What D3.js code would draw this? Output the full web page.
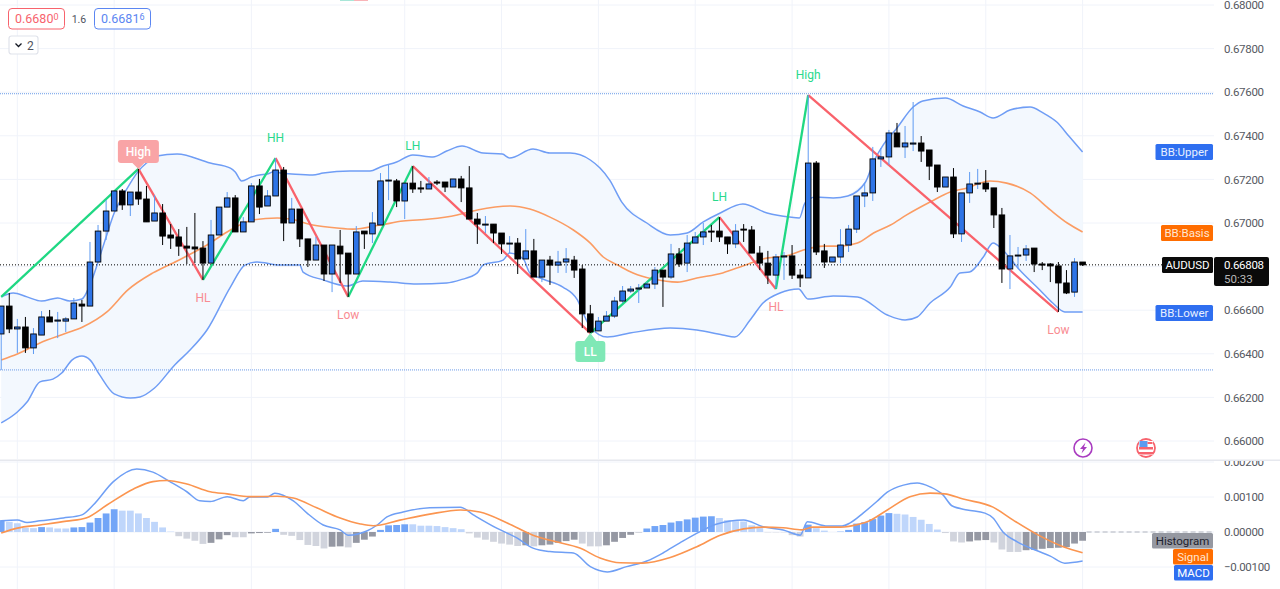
<!DOCTYPE html>
<html><head><meta charset="utf-8">
<script src="https://cdnjs.cloudflare.com/ajax/libs/d3/7.8.5/d3.min.js"></script>
<style>html,body{margin:0;padding:0;background:#fff;overflow:hidden}svg{display:block}text{font-family:Roboto,sans-serif}</style>
</head><body><svg id="c" width="1280" height="589"></svg>
<script>
const opens=[.66491,.66619,.66514,.66523,.66427,.66486,.66569,.66550,.66550,.66560,.66628,.66619,.66821,.66963,.67055,.67147,.67083,.67142,.67110,.67009,.67046,.66945,.66936,.66894,.66890,.66885,.66816,.66945,.67073,.67115,.66959,.67005,.67170,.67078,.67124,.67243,.67000,.67064,.66927,.66830,.66899,.66766,.66894,.66862,.66766,.66963,.66950,.66991,.67193,.67193,.67101,.67183,.67161,.67156,.67188,.67188,.67165,.67202,.67161,.67018,.66991,.66995,.66954,.66904,.66908,.66835,.66872,.66752,.66830,.66807,.66821,.66830,.66789,.66583,.66505,.66550,.66573,.66642,.66688,.66697,.66702,.66720,.66784,.66752,.66858,.66816,.66908,.66936,.66963,.66963,.66936,.66904,.66972,.66968,.66862,.66816,.66761,.66844,.66849,.66761,.66748,.67275,.66872,.66821,.66844,.66899,.66972,.67124,.67138,.67294,.67303,.67413,.67349,.67362,.67367,.67335,.67266,.67165,.67211,.66950,.67138,.67183,.67183,.67161,.67037,.66789,.66849,.66853,.66885,.66812,.66812,.66803,.66725,.66683,.66821];
const closes=[.66619,.66514,.66523,.66427,.66491,.66569,.66546,.66555,.66560,.66633,.66619,.66821,.66963,.67055,.67147,.67083,.67142,.67110,.67005,.67046,.66940,.66931,.66894,.66885,.66881,.66816,.66945,.67073,.67115,.66959,.67005,.67170,.67073,.67124,.67243,.67000,.67064,.66927,.66830,.66899,.66766,.66899,.66858,.66766,.66959,.66950,.67000,.67193,.67197,.67101,.67183,.67156,.67156,.67179,.67183,.67165,.67202,.67161,.67018,.66995,.66995,.66954,.66904,.66908,.66835,.66872,.66752,.66830,.66807,.66821,.66835,.66784,.66583,.66500,.66550,.66573,.66642,.66688,.66697,.66702,.66720,.66784,.66752,.66858,.66812,.66908,.66936,.66959,.66959,.66936,.66904,.66963,.66968,.66862,.66816,.66761,.66844,.66849,.66761,.66748,.67275,.66867,.66821,.66844,.66899,.66972,.67124,.67138,.67294,.67303,.67413,.67349,.67367,.67367,.67330,.67261,.67165,.67211,.66950,.67138,.67179,.67183,.67156,.67037,.66789,.66849,.66853,.66881,.66812,.66807,.66803,.66725,.66679,.66821,.66808];
const highs=[.66619,.66679,.66560,.66569,.66518,.66596,.66601,.66592,.66569,.66656,.66647,.66913,.66991,.67105,.67147,.67156,.67142,.67248,.67170,.67128,.67087,.66995,.66972,.66982,.67046,.66917,.67014,.67073,.67142,.67128,.67027,.67183,.67202,.67151,.67298,.67257,.67115,.67064,.66927,.66936,.66899,.66899,.66968,.66862,.66986,.66963,.67050,.67229,.67266,.67202,.67183,.67261,.67193,.67211,.67197,.67188,.67202,.67216,.67261,.67046,.67032,.66995,.66954,.66940,.66931,.66972,.66927,.66830,.66849,.66872,.66885,.66849,.66807,.66624,.66569,.66596,.66661,.66711,.66711,.66720,.66729,.66798,.66784,.66904,.66885,.66945,.66959,.67000,.66991,.67027,.66936,.66995,.66995,.66986,.66894,.66872,.66858,.66867,.66899,.66789,.67587,.67284,.66904,.66844,.66972,.66991,.67124,.67183,.67349,.67344,.67427,.67459,.67445,.67555,.67399,.67335,.67266,.67211,.67252,.67138,.67234,.67248,.67243,.67161,.67069,.66945,.66890,.66899,.66885,.66821,.66816,.66821,.66784,.66839,.66821];
const lows=[.66326,.66495,.66404,.66404,.66399,.66486,.66546,.66472,.66500,.66560,.66546,.66619,.66821,.66922,.67055,.67060,.67032,.67083,.67005,.67009,.66899,.66881,.66849,.66812,.66816,.66739,.66816,.66945,.67073,.66959,.66959,.67005,.67041,.67078,.67124,.66917,.67000,.66890,.66798,.66830,.66734,.66683,.66725,.66661,.66766,.66881,.66908,.66991,.67105,.67073,.67018,.67138,.67138,.67156,.67174,.67142,.67165,.67096,.67018,.66904,.66954,.66908,.66858,.66862,.66766,.66835,.66752,.66729,.66716,.66771,.66771,.66748,.66518,.66495,.66505,.66550,.66564,.66633,.66679,.66633,.66702,.66697,.66615,.66743,.66798,.66775,.66908,.66899,.66913,.66913,.66858,.66885,.66913,.66862,.66784,.66720,.66702,.66739,.66743,.66706,.66748,.66853,.66794,.66821,.66816,.66867,.66954,.67073,.67101,.67257,.67266,.67349,.67298,.67330,.67280,.67197,.67142,.67165,.66931,.66913,.67092,.67156,.67142,.66977,.66725,.66697,.66794,.66826,.66775,.66784,.66729,.66592,.66674,.66661,.66803];

const upperBars=[0,1.5,3.2,5,7,8.5,10,11,12,13,14,15,16,17,18,19.3,21.8,25.9,28.4,29,29.8,31,32,33,34,34.6,36,38.6,39.9,43.2,45.7,47,49,51,53.5,55.2,57.1,59.7,62.1,63,65.9,68,70.5,73,74.2,75.4,76.9,80,82.9,85,87,89.1,91.9,94.9,97.7,98.9,99.6,100.9,103.1,104.9,107.1,108.1,109.3,111,113,114.2,117,119.2,121.3,122.9,125,127.5,129.1,130.8,132.4,134];
const upperVals=[.66661,.66679,.66661,.66642,.66656,.66642,.66651,.66716,.66821,.66936,.67046,.67119,.67183,.67238,.67275,.67307,.67316,.67275,.67252,.67234,.67193,.67211,.67220,.67225,.67238,.67229,.67225,.67220,.67229,.67238,.67238,.67257,.67280,.67312,.67303,.67330,.67353,.67321,.67316,.67298,.67339,.67321,.67321,.67289,.67252,.67197,.67096,.67000,.66945,.66954,.67005,.67046,.67087,.67046,.67027,.67023,.67092,.67119,.67115,.67124,.67188,.67280,.67358,.67436,.67532,.67560,.67573,.67537,.67509,.67482,.67518,.67532,.67505,.67463,.67394,.67326];
const lowerBars=[0,2,3.2,4.8,6.4,7.5,8.8,10,11,12.2,14,16,17.2,19,21.5,23.4,25.5,28.4,30.2,31.7,34.5,37,37.4,39.9,42.9,44.8,48.2,51.5,55.2,56.9,59,59.7,62.2,63,64.7,65.5,67.1,69.6,71.4,72.1,73,75.1,77.9,82.9,86.2,89.4,90.9,92.8,94.4,96.5,98.8,100,103.1,106.1,109.8,112,113.5,115.1,117.6,118.8,120,121.7,122.9,124.1,126.2,128.7,130.3,131.8,134];
const lowerVals=[.66083,.66133,.66179,.66271,.66284,.66312,.66372,.66390,.66372,.66303,.66216,.66197,.66202,.66243,.66349,.66417,.66509,.66706,.66807,.66821,.66807,.66807,.66775,.66739,.66711,.66734,.66729,.66720,.66725,.66739,.66771,.66807,.66830,.66862,.66835,.66771,.66743,.66706,.66647,.66587,.66523,.66477,.66495,.66518,.66509,.66486,.66477,.66555,.66633,.66679,.66697,.66651,.66665,.66661,.66578,.66555,.66569,.66633,.66706,.66771,.66775,.66844,.66908,.66876,.66784,.66693,.66633,.66592,.66592];
const basisBars=[0,2,4.8,8.1,10.1,13.1,15.7,18.8,21.8,25.5,28.4,31.2,34.2,35.8,38.6,41.6,43.6,47,49.8,53.1,56.5,59,63.1,65.5,68,70.9,73,74.6,76.4,78.3,80.8,83.8,86.2,89.4,91.9,94.4,97.7,99.4,101.9,104,106.1,108.1,110.2,112.2,115.1,117.6,119.7,122.5,124.6,127.5,130,132.1,134];
const basisVals=[.66372,.66399,.66450,.66495,.66523,.66592,.66693,.66771,.66826,.66899,.66968,.67014,.67023,.67018,.66991,.66977,.66972,.66991,.67009,.67018,.67037,.67060,.67078,.67064,.67027,.66968,.66908,.66844,.66807,.66771,.66743,.66729,.66748,.66771,.66803,.66835,.66853,.66876,.66894,.66894,.66908,.66954,.66991,.67037,.67096,.67142,.67161,.67193,.67183,.67138,.67060,.67000,.66959];

const pivotBars=[0,17,25,34,43,51,73,89,96,100,131];
const pivotPrices=[.66661,.67248,.66739,.67298,.66661,.67261,.66495,.67027,.66697,.67587,.66592];
const pivotLabels=["","High","HL","HH","Low","LH","LL","LH","HL","High","Low"];

const macdBars=[0,2,3.2,4.8,7.7,10,11.4,13.9,16.8,18.8,20.9,23,24.6,25.9,28,30,30.8,33,33.9,36.2,37.9,39.9,42,43,45.3,46.6,47.8,49.8,53.1,56.9,58.5,61.4,63.9,65.9,68,70.9,73,75.1,77.5,80,82,84.1,86.6,88.7,92,94.4,96.9,99,99.9,102.4,104.2,105.2,106.8,108.5,109.8,111.8,113.5,115.1,116.7,117.8,119.7,121.9,122.9,124.1,125.9,128.3,130,131.8,134];
const macdVals=[.00032,.00034,.00027,.00032,.00040,.00049,.00077,.00144,.00180,.00171,.00144,.00115,.00089,.00087,.00101,.00089,.00100,.00100,.00111,.00089,.00054,.00020,.00006,-.00009,.00003,.00020,.00043,.00057,.00069,.00071,.00049,.00011,-.00017,-.00046,-.00056,-.00060,-.00099,-.00114,-.00099,-.00083,-.00060,-.00031,.00001,.00023,.00034,.00015,.00006,-.00009,.00029,.00017,.00017,.00026,.00054,.00087,.00114,.00134,.00140,.00129,.00106,.00075,.00063,.00054,.00040,.00001,-.00028,-.00053,-.00069,-.00089,-.00083];
const signalBars=[0,2,4.8,8.1,10.6,13.1,16.4,18.8,20.5,23,25.9,28,30.8,34.2,36.2,39.1,42,44.5,46.1,49.4,53.1,56.9,59.3,62.7,65.9,68.4,71.7,74.2,76.7,79.5,82.9,86.2,89.1,92,94.4,96.9,99.2,100.6,104,106.4,107.3,109.8,112.6,115.1,116.9,119.2,122.9,125.4,128.3,131.6,134];
const signalVals=[-.00003,.00011,.00020,.00031,.00041,.00077,.00123,.00144,.00147,.00137,.00115,.00109,.00101,.00102,.00097,.00069,.00040,.00023,.00018,.00034,.00051,.00063,.00057,.00026,-.00009,-.00026,-.00046,-.00074,-.00088,-.00089,-.00073,-.00042,-.00009,.00009,.00014,.00012,.00006,.00014,.00014,.00023,.00029,.00063,.00101,.00111,.00109,.00094,.00071,.00034,-.00006,-.00042,-.00059];
const histVals=[.00034,.00029,.00025,.00012,.00011,.00014,.00013,.00010,.00010,.00013,.00014,.00027,.00040,.00053,.00065,.00061,.00061,.00053,.00040,.00029,.00013,.00001,-.00012,-.00019,-.00025,-.00034,-.00031,-.00021,-.00009,-.00015,-.00015,-.00004,-.00003,-.00002,.00009,-.00008,-.00011,-.00023,-.00037,-.00040,-.00047,-.00042,-.00041,-.00044,-.00031,-.00022,-.00013,.00006,.00019,.00020,.00022,.00022,.00018,.00018,.00017,.00014,.00011,.00008,-.00004,-.00016,-.00022,-.00028,-.00033,-.00036,-.00040,-.00038,-.00041,-.00038,-.00036,-.00031,-.00026,-.00022,-.00033,-.00041,-.00041,-.00038,-.00028,-.00017,-.00008,-.00001,.00010,.00017,.00020,.00027,.00031,.00036,.00041,.00044,.00045,.00040,.00034,.00031,.00030,.00019,.00011,-.00001,-.00001,-.00001,-.00009,-.00013,.00021,.00011,.00004,.00000,.00001,.00006,.00024,.00028,.00037,.00047,.00054,.00052,.00050,.00043,.00035,.00023,.00007,-.00003,-.00027,-.00030,-.00027,-.00024,-.00023,-.00030,-.00050,-.00057,-.00057,-.00052,-.00051,-.00048,-.00046,-.00045,-.00043,-.00033,-.00025];

const priceTicks=[.66,.662,.664,.666,.668,.67,.672,.674,.676,.678,.68];
const macdTicks=[-.001,0,.001,.002];
const gridBars=[2,14,31,50,62,74,86,98,110,122,134];
const levelPrices=[.67593,.66326];
const lastPrice=.66808;

const C={grid:'#f0f3fa',band:'#6f9df5',fill:'#f3f8fe',basis:'#fb9c63',up:'#2e74e6',upWick:'#5f9bf2',green:'#1fd883',red:'#f9626b',axis:'#565962',txtG:'#29d98c',txtR:'#f98c92'};
const x=d3.scaleLinear().domain([0,134]).range([1.2,1082.6]);
const y=d3.scaleLinear().domain([.66,.68]).range([441,5]);
const yM=d3.scaleLinear().domain([-.001,.001]).range([567,497]);
const svg=d3.select('#c');
const defs=svg.append('defs');
defs.append('clipPath').attr('id','cm').append('rect').attr('x',0).attr('y',0).attr('width',1280).attr('height',459);
defs.append('clipPath').attr('id','cb').append('rect').attr('x',0).attr('y',461).attr('width',1280).attr('height',128);
const main=svg.append('g').attr('clip-path','url(#cm)');
const sub=svg.append('g').attr('clip-path','url(#cb)');

// grid
main.append('g').selectAll('line').data(priceTicks).join('line').attr('x1',0).attr('x2',1214).attr('y1',d=>y(d)).attr('y2',d=>y(d)).attr('stroke',C.grid);
sub.append('g').selectAll('line').data(macdTicks).join('line').attr('x1',0).attr('x2',1214).attr('y1',d=>yM(d)).attr('y2',d=>yM(d)).attr('stroke',C.grid);
[main,sub].forEach(g=>g.append('g').selectAll('line').data(gridBars).join('line').attr('x1',d=>x(d)).attr('x2',d=>x(d)).attr('y1',0).attr('y2',589).attr('stroke',C.grid));

// bands
const lineOf=(sy,curve)=>d3.line().x(d=>x(d[0])).y(d=>sy(d[1])).curve(curve||d3.curveLinear);
const smooth=d3.curveMonotoneX;
const U=upperBars.map((b,i)=>[b,upperVals[i]]),L=lowerBars.map((b,i)=>[b,lowerVals[i]]),B=basisBars.map((b,i)=>[b,basisVals[i]]);
main.append('path').attr('d',lineOf(y)(U.concat(L.slice().reverse()))+'Z').attr('fill',C.fill);
// levels
main.append('g').selectAll('line').data(levelPrices).join('line').attr('x1',0).attr('x2',1214).attr('y1',d=>y(d)).attr('y2',d=>y(d)).attr('stroke','#6a9be8').attr('stroke-width',1).attr('stroke-dasharray','1 1');
[[U,C.band,1.5],[L,C.band,1.5],[B,C.basis,1.6]].forEach(([s,c,w])=>main.append('path').attr('d',lineOf(y,smooth)(s)).attr('fill','none').attr('stroke',c).attr('stroke-width',w));

// current price line
main.append('line').attr('x1',0).attr('x2',1163).attr('y1',y(lastPrice)).attr('y2',y(lastPrice)).attr('stroke','#000').attr('stroke-dasharray','1 2');

// zigzag
const P=pivotBars.map((b,i)=>[b,pivotPrices[i]]);
main.append('g').selectAll('path').data(d3.pairs(P)).join('path').attr('d',d=>lineOf(y)(d)).attr('fill','none')
  .attr('stroke',d=>d[1][1]>d[0][1]?C.green:C.red).attr('stroke-width',2.3);

// candles
const cg=main.append('g');
opens.forEach((o,i)=>{
  const c=closes[i],up=c>=o,px=x(i);
  cg.append('line').attr('x1',px).attr('x2',px).attr('y1',y(highs[i])).attr('y2',y(lows[i])).attr('stroke',up?C.upWick:'#000').attr('stroke-width',1);
  cg.append('rect').attr('x',px-2.8).attr('width',5.6).attr('y',y(Math.max(o,c))).attr('height',Math.max(1,Math.abs(y(o)-y(c))))
    .attr('fill',up?C.up:'#000').attr('stroke','#000').attr('stroke-width',.9);
});

// pivot labels
pivotLabels.forEach((t,i)=>{
  if(!t) return;
  const isHigh=i===1||pivotPrices[i]>pivotPrices[i-1];
  const px=x(pivotBars[i]),py=y(pivotPrices[i]);
  if(i===1){
    main.append('path').attr('d',`M${px-20.5},${py-26}a3,3 0 0 1 3,-3h35a3,3 0 0 1 3,3v17a3,3 0 0 1 -3,3h-11.5l-6,6l-6,-6h-11.5a3,3 0 0 1 -3,-3z`).attr('fill','#f9a4a6');
    main.append('text').attr('x',px).attr('y',py-13).attr('text-anchor','middle').attr('font-size',12).attr('font-weight',500).attr('fill','#fff').text(t);
  } else if(t==='LL'){
    main.append('path').attr('d',`M${px},${py}l6,8h6a3,3 0 0 1 3,3v15a3,3 0 0 1 -3,3h-24a3,3 0 0 1 -3,-3v-15a3,3 0 0 1 3,-3h6z`).attr('fill','#7fe8b6');
    main.append('text').attr('x',px).attr('y',py+22.5).attr('text-anchor','middle').attr('font-size',12).attr('font-weight',500).attr('fill','#fff').text(t);
  } else {
    main.append('text').attr('x',px).attr('y',isHigh?py-16:py+22).attr('text-anchor','middle').attr('font-size',12).attr('fill',isHigh?C.txtG:C.txtR).text(t);
  }
});

// MACD histogram
const bw=6.8;
sub.append('g').selectAll('rect').data(histVals).join('rect')
  .attr('x',(d,i)=>x(i)-bw/2).attr('width',bw)
  .attr('y',d=>Math.min(yM(d),yM(0))).attr('height',d=>Math.abs(yM(d)-yM(0)))
  .attr('fill',(d,i)=>{const rising=i===0||d>histVals[i-1];return d>=0?(rising?'#72a5f7':'#bfd6fb'):(rising?'#9598a3':'#d1d4dd');});
sub.append('line').attr('x1',x(134)+4).attr('x2',1214).attr('y1',yM(0)).attr('y2',yM(0)).attr('stroke','#b2b5be').attr('stroke-dasharray','5 3');
sub.append('path').attr('d',lineOf(yM,smooth)(macdBars.map((b,i)=>[b,macdVals[i]]))).attr('fill','none').attr('stroke','#6f9ff5').attr('stroke-width',1.5);
sub.append('path').attr('d',lineOf(yM,smooth)(signalBars.map((b,i)=>[b,signalVals[i]]))).attr('fill','none').attr('stroke','#fb9550').attr('stroke-width',1.6);

// pane divider
svg.append('rect').attr('x',0).attr('y',459.5).attr('width',1280).attr('height',1.5).attr('fill','#e6e8ee');

// axes
const styleAxis=g=>{g.select('.domain').remove();g.selectAll('line').remove();g.selectAll('text').attr('fill',C.axis).attr('font-size',11.5).attr('font-family','Roboto,sans-serif').attr('letter-spacing','-.3');};
main.append('g').attr('transform','translate(1224,0)').call(d3.axisRight(y).tickValues(priceTicks).tickFormat(d3.format('.5f')).tickSize(0).tickPadding(0)).call(styleAxis);
sub.append('g').attr('transform','translate(1224,0)').call(d3.axisRight(yM).tickValues(macdTicks).tickFormat(d3.format('.5f')).tickSize(0).tickPadding(0)).call(styleAxis);

// series tags
const tags=[['BB:Upper',1155.5,144,57.5,16,'#2f6ff0','#e8efff'],['BB:Basis',1161,225,52,16,'#ff6d00','#ffe6d2'],['AUDUSD',1162,257,51,16,'#0a0a0a','#fff'],['BB:Lower',1155.5,305,57.5,16,'#2f6ff0','#e8efff'],['Histogram',1152,533,61,15.5,'#9598a1','#1e222d'],['Signal',1173,549,40,15.5,'#ff6d00','#ffe6d2'],['MACD',1174,565,39,15.5,'#2f6ff0','#fff']];
const tg=svg.append('g');
tags.forEach(([t,a,b,w,h,f,c])=>{
  tg.append('rect').attr('x',a).attr('y',b).attr('width',w).attr('height',h).attr('rx',1.5).attr('fill',f);
  tg.append('text').attr('x',a+w/2).attr('y',b+h/2+4).attr('text-anchor','middle').attr('font-size',11.5).attr('fill',c).text(t);
});
tg.append('rect').attr('x',1214).attr('y',257).attr('width',55).attr('height',29).attr('rx',2).attr('fill','#0a0a0a');
tg.append('text').attr('x',1224).attr('y',269).attr('font-size',11.5).attr('letter-spacing','-.3').attr('fill','#fff').text(d3.format('.5f')(lastPrice));
tg.append('text').attr('x',1224).attr('y',283).attr('font-size',11.5).attr('fill','#b8b8b8').text('50:33');

// order buttons
const tb=svg.append('g');
const btn=(xx,w,col,t,sup)=>{
  tb.append('rect').attr('x',xx+.5).attr('y',8.5).attr('width',w).attr('height',20.5).attr('rx',3.5).attr('fill','#fff').attr('stroke',col);
  const tt=tb.append('text').attr('x',xx+7).attr('y',23).attr('font-size',12.5).attr('fill',col).text(t);
  tt.append('tspan').attr('font-size',9).attr('dy',-3).text(sup);
};
btn(8,56,'#f7636d','0.6680','0');
tb.append('text').attr('x',79).attr('y',23).attr('text-anchor','middle').attr('font-size',10.5).attr('fill','#50535e').text('1.6');
btn(94,56,'#5b86f2','0.6681','6');
tb.append('rect').attr('x',9).attr('y',36).attr('width',29).attr('height',18).attr('rx',2.5).attr('fill','#fff').attr('stroke','#e0e3eb').attr('stroke-width',1.2);
tb.append('path').attr('d','M15.5,43.5l3,3l3,-3').attr('fill','none').attr('stroke','#131722').attr('stroke-width',1.3);
tb.append('text').attr('x',27).attr('y',50).attr('font-size',12).attr('fill','#50535e').text('2');

// top clipped legend marks
svg.append('rect').attr('x',340).attr('y',0).attr('width',14).attr('height',1).attr('fill','#a8e6d8');
svg.append('rect').attr('x',354).attr('y',0).attr('width',14).attr('height',1).attr('fill','#f9b4b8');

// event icons
const ig=svg.append('g');
ig.append('circle').attr('cx',1083).attr('cy',448).attr('r',9).attr('fill','#fff').attr('stroke','#a93cc0').attr('stroke-width',1.6);
ig.append('path').attr('d','M1085.5,442.5l-5.5,6.5h3l-1.5,4.5l5.5,-6.5h-3z').attr('fill','#a93cc0');
ig.append('circle').attr('cx',1146).attr('cy',448).attr('r',9).attr('fill','#fff').attr('stroke','#f7636d').attr('stroke-width',1.8);
ig.append('rect').attr('x',1139).attr('y',441).attr('width',14).attr('height',14).attr('fill','#fff');
ig.append('rect').attr('x',1139).attr('y',447).attr('width',14).attr('height',2.5).attr('fill','#f7636d');
ig.append('rect').attr('x',1139).attr('y',452).attr('width',14).attr('height',2.5).attr('fill','#f7636d');
ig.append('rect').attr('x',1139.5).attr('y',441).attr('width',8).attr('height',6).attr('fill','#5b9bf0');
ig.append('rect').attr('x',1147.5).attr('y',442).attr('width',5).attr('height',2).attr('fill','#f7636d');
</script></body></html>
